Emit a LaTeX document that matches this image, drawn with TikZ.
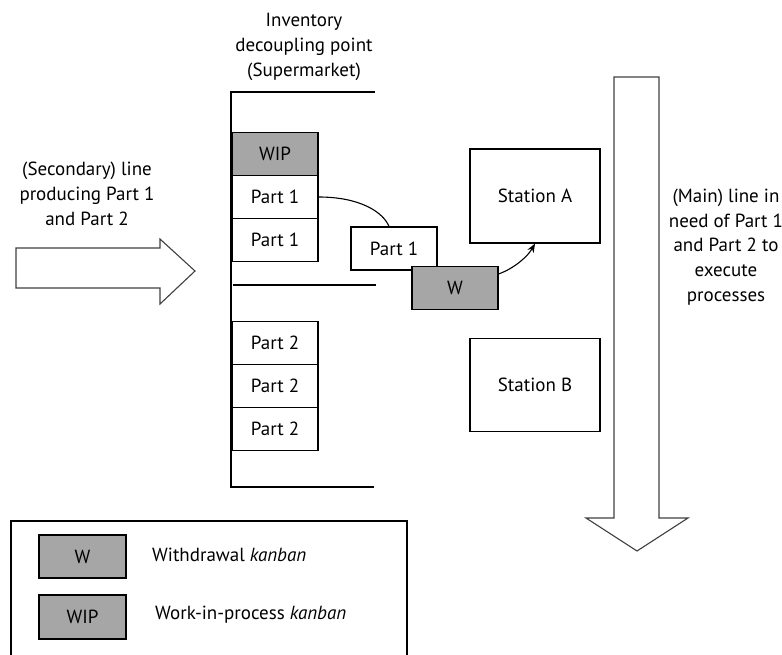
\documentclass[tikz,border=0pt]{standalone}
\usepackage{fontspec}
\setmainfont{PT Sans}
\usetikzlibrary{arrows.meta}
\definecolor{kanbangray}{RGB}{166,166,166}
\begin{document}
\begin{tikzpicture}[x=1pt,y=-1pt,
  every node/.style={font=\fontsize{19}{24.8}\selectfont, inner sep=0pt},
  cell/.style={draw, line width=1.2pt, fill=white, minimum width=86pt, minimum height=43pt},
  card/.style={cell, fill=kanbangray},
  station/.style={draw, line width=1.2pt, fill=white, minimum width=130pt, minimum height=94pt},
  flowarrow/.style={draw=black!75, line width=1.1pt, fill=white, line join=miter},
  rack/.style={line width=1.2pt},
  label/.style={align=center}]
\useasboundingbox (0,0) rectangle (782,655);

% supermarket rack
\draw[rack] (375,92) -- (231,92) -- (231,487) -- (374,487);
\draw[rack] (233,285) -- (376,285);

% production line arrow (left) and main line arrow (right)
\draw[flowarrow] (16,248) -- (160,248) -- (160,239) -- (195,271) -- (160,304) -- (160,288) -- (16,288) -- cycle;
\draw[flowarrow] (614,77) -- (659,77) -- (659,518) -- (688,518) -- (637,551) -- (586,518) -- (614,518) -- cycle;

% texts
\node[label] (title) at (304,47) {Inventory\\decoupling point\\(Supermarket)};
\node[label] (secondary) at (87,194) {(Secondary) line\\producing Part 1\\and Part 2};
\node[label] (mainline) at (726,247) {(Main) line in\\need of Part 1\\and Part 2 to\\execute\\processes};

% stock in the supermarket
\node[card] (wip) at (275,154) {WIP};
\node[cell] (p1a) at (275,197) {Part 1};
\node[cell] (p1b) at (275,240) {Part 1};
\node[cell] (p2a) at (275,343) {Part 2};
\node[cell] (p2b) at (275,386) {Part 2};
\node[cell] (p2c) at (275,429) {Part 2};

% withdrawn part with its kanban
\node[cell] (p1f) at (394,248.5) {Part 1};
\node[card] (w) at (455,288) {W};

% stations of the main line
\node[station] (sa) at (535,196) {Station A};
\node[station, minimum height=93pt] (sb) at (535,385) {Station B};

% connectors
\draw[line width=1.1pt] (p1a.east) .. controls (360,197) and (383,212) .. ([xshift=-5pt]p1f.north);
\draw[line width=1.1pt, -{Stealth[length=9pt,width=7pt]}] ([yshift=14pt]w.east) .. controls (515,268) and (528,256) .. (sa.south);

% legend
\draw[line width=1.2pt] (11,660) -- (11,521) -- (407,521) -- (407,660);
\node[card, minimum width=87pt] (lw) at (82.5,556.5) {W};
\node[card, minimum width=87pt, minimum height=44pt] (lwip) at (82.5,617) {WIP};
\node[anchor=west] (lwtext) at (152,555) {Withdrawal \textit{kanban}};
\node[anchor=west] (lwiptext) at (155,615) {Work-in-process \textit{kanban}};
\end{tikzpicture}
\end{document}
